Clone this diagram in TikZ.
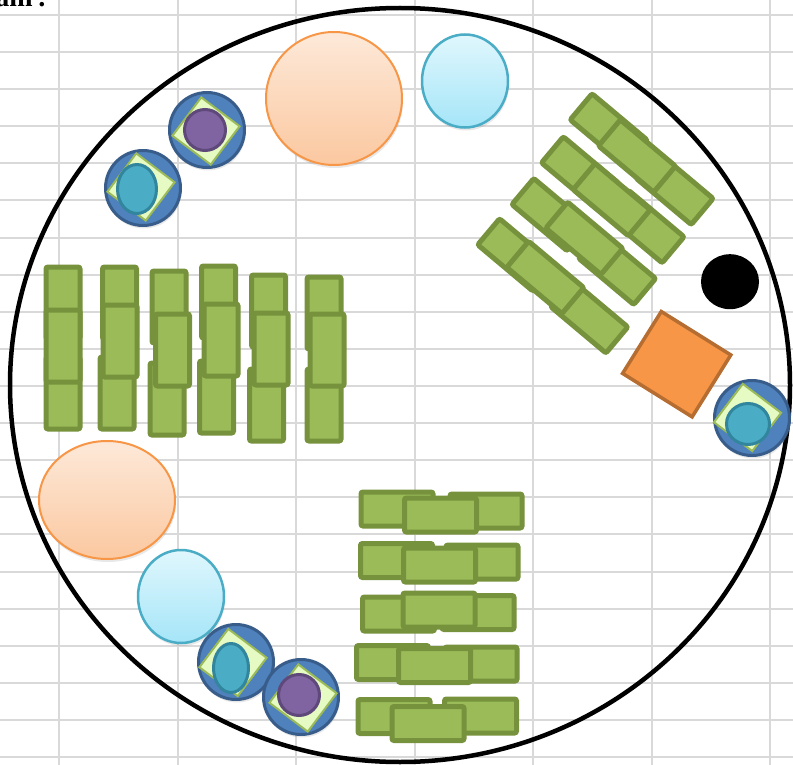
\documentclass[tikz,border=0pt]{standalone}
\usepackage{fontspec}
\setmainfont{Liberation Serif}
\usetikzlibrary{shapes.geometric, shadows}
\definecolor{cGrid}{RGB}{217,217,217}
\definecolor{cSeat}{RGB}{155,187,89}
\definecolor{cSeatEdge}{RGB}{118,146,60}
\definecolor{cPeach}{RGB}{247,150,70}
\definecolor{cPeachTop}{RGB}{253,233,217}
\definecolor{cPeachBot}{RGB}{251,200,160}
\definecolor{cSky}{RGB}{75,172,198}
\definecolor{cSkyTop}{RGB}{224,247,253}
\definecolor{cSkyBot}{RGB}{165,229,248}
\definecolor{cNavy}{RGB}{79,129,189}
\definecolor{cNavyEdge}{RGB}{56,93,138}
\definecolor{cLime}{RGB}{230,250,195}
\definecolor{cTealEdge}{RGB}{49,133,156}
\definecolor{cPurple}{RGB}{128,100,162}
\definecolor{cPurpleEdge}{RGB}{95,73,122}
\definecolor{cBrick}{RGB}{182,109,49}
\tikzset{
	gridline/.style={draw=cGrid, line width=2pt},
	seat/.style={rectangle, draw=cSeatEdge, fill=cSeat, line width=5pt, rounded corners=2pt, minimum width=72pt, minimum height=34pt, inner sep=0pt},
	softshadow/.style={drop shadow={opacity=0.18, shadow xshift=1pt, shadow yshift=-3pt}},
	peach/.style={ellipse, draw=cPeach, line width=2pt, top color=cPeachTop, bottom color=cPeachBot, inner sep=0pt, softshadow},
	sky/.style={ellipse, draw=cSky, line width=2.5pt, top color=cSkyTop, bottom color=cSkyBot, inner sep=0pt, softshadow},
	% guest marker helpers
	guestdisc/.style={circle, draw=cNavyEdge, fill=cNavy, line width=3pt, minimum size=75pt, inner sep=0pt, softshadow},
	guestmark/.style={rectangle, draw=cSeat, fill=cLime, line width=2pt, minimum size=48pt, inner sep=0pt, rotate=-37},
	guestteal/.style={ellipse, draw=cTealEdge, fill=cSky, line width=3pt, inner sep=0pt},
	guestpurple/.style={circle, draw=cPurpleEdge, fill=cPurple, line width=3pt, minimum size=41pt, inner sep=0pt},
}
\begin{document}
\begin{tikzpicture}[x=1pt, y=-1pt]
	\useasboundingbox (0,0) rectangle (793,765);
	% sheet grid
	\foreach \i in {0,...,6}
		\draw[gridline] ({59.2+118.5*\i},0) -- ({59.2+118.5*\i},765);
	\foreach \j in {0,...,20}
		\draw[gridline] (0,{15+37.1*\j}) -- (793,{15+37.1*\j});
	\node[font=\bfseries\fontsize{28}{30}\selectfont, anchor=base east, inner sep=0pt] (title) at (47,7) {am\,:};
	% hall
	\draw[line width=4.5pt] (400,385) ellipse [x radius=390pt, y radius=377pt];
	% left block
	\foreach \n/\tx/\ty/\bx/\by/\mx/\my in {1/63/303/63/393/63/346, 2/119.5/303/117/393/120/341, 3/169/307/167/399/172.5/350, 4/218.5/302/216.5/397/221/340, 5/268.5/311/266.5/405/271/349, 6/324/313/324/405/327/350}{
		\node[seat, rotate=90] (lt\n) at (\tx,\ty) {};
		\node[seat, rotate=90] (lb\n) at (\bx,\by) {};
		\node[seat, rotate=90] (lm\n) at (\mx,\my) {};
	}
	% bottom block
	\foreach \n/\lx/\ly/\rx/\ry/\mx/\my in {1/397/509/486/511/440.5/515, 2/396.5/560.5/482/562/439.5/565, 3/398.5/614/478/612.5/439/610, 4/392.5/662.5/481/664/434.5/665.5, 5/394/716.5/480.5/716/428/723.5}{
		\node[seat] (bl\n) at (\lx,\ly) {};
		\node[seat] (br\n) at (\rx,\ry) {};
		\node[seat] (bm\n) at (\mx,\my) {};
	}
	% right block
	\foreach \n/\lx/\ly/\rx/\ry/\mx/\my in {1/608.7/129.9/674.6/188.4/637/156, 2/580/172.9/645.5/226.7/611.7/199.7, 3/550.4/214.6/617.1/268.4/584.3/238.3, 4/516.2/254.9/589.3/316.9/545.3/277.5}{
		\node[seat, rotate=-40] (rl\n) at (\lx,\ly) {};
		\node[seat, rotate=-40] (rr\n) at (\rx,\ry) {};
		\node[seat, rotate=-40] (rm\n) at (\mx,\my) {};
	}
	% round tables
	\node[peach, minimum width=136pt, minimum height=133pt] (peachtop) at (334,98.5) {};
	\node[sky, minimum width=86pt, minimum height=93pt] (skytop) at (465,81) {};
	\node[peach, minimum width=136pt, minimum height=118pt] (peachlow) at (107,500) {};
	\node[sky, minimum width=86pt, minimum height=93pt] (skylow) at (181,596.5) {};
	% stage and pillar
	\node[rectangle, draw=cBrick, fill=cPeach, line width=3.5pt, minimum width=82pt, minimum height=73pt, inner sep=0pt, rotate=-32] (stage) at (676.7,364.2) {};
	\node[ellipse, fill=black, minimum width=58pt, minimum height=55pt, inner sep=0pt] (pillar) at (730,281.7) {};
	% guests
	\node[guestdisc] (g1) at (207,130) {};
	\node[guestmark] (m1) at (206,131) {};
	\node[guestpurple] (p1) at (205,130) {};
	\node[guestdisc] (g2) at (143,188) {};
	\node[guestmark] (m2) at (141,187) {};
	\node[guestteal, minimum width=39pt, minimum height=49pt] (t2) at (137,189) {};
	\node[guestdisc] (g3) at (752,418) {};
	\node[guestmark] (m3) at (747.5,417.5) {};
	\node[guestteal, minimum width=43pt, minimum height=41pt] (t3) at (748,424) {};
	\node[guestdisc] (g4) at (236,662) {};
	\node[guestmark] (m4) at (233,662.5) {};
	\node[guestteal, minimum width=35pt, minimum height=49pt] (t4) at (231,668) {};
	\node[guestdisc] (g5) at (301,697) {};
	\node[guestmark] (m5) at (303,698) {};
	\node[guestpurple] (p5) at (299,695) {};
\end{tikzpicture}
\end{document}
